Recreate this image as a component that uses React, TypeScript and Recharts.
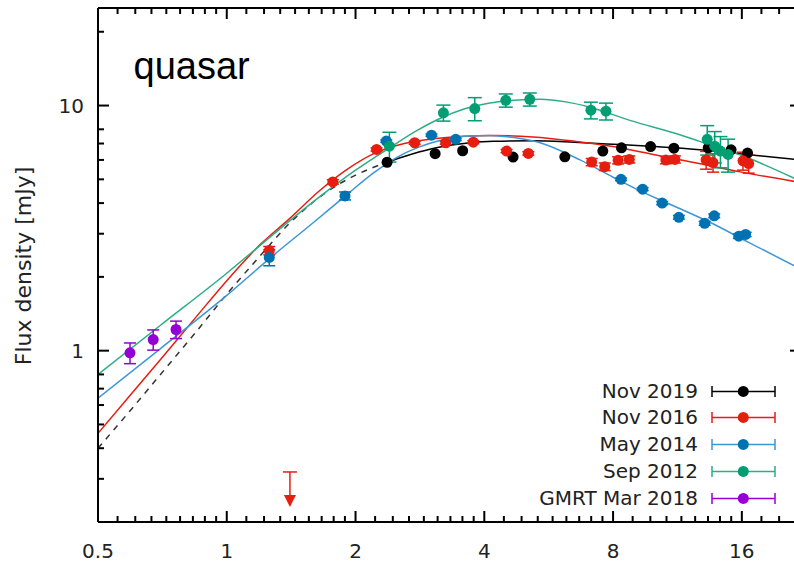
import React from 'react';
import { ComposedChart, Line, Scatter, XAxis, YAxis, ErrorBar, Legend, Customized, ReferenceDot, ReferenceLine } from 'recharts';

// ---- tick labels / ticks ----
const xMajorTicks = [0.5, 1, 2, 4, 8, 16];
const xMinorFractions = [1, 2, 3, 4, 5, 6, 7, 8]; // octave subdivisions (ninths)
const yMajorTicks = [1, 10];
const yMinorTicks = [0.3, 0.4, 0.5, 0.6, 0.7, 0.8, 2, 3, 4, 5, 6, 7, 8, 20];
const X_MIN = 0.5;
const X_MAX = 22;
const Y_MIN = 0.2;
const Y_MAX = 25;

// ---- fit curves ----
const fitNov2019Dashed = [
  { x: 0.5, y: 0.40 }, { x: 0.6, y: 0.58 }, { x: 0.7, y: 0.80 }, { x: 0.85, y: 1.2 },
  { x: 1.0, y: 1.7 }, { x: 1.2, y: 2.45 }, { x: 1.4, y: 3.3 }, { x: 1.7, y: 4.4 },
  { x: 2.0, y: 5.2 }, { x: 2.37, y: 5.87 },
];
const fitNov2019 = [
  { x: 2.37, y: 5.87 }, { x: 2.6, y: 6.2 }, { x: 3.0, y: 6.65 }, { x: 3.5, y: 6.97 },
  { x: 4.2, y: 7.15 }, { x: 5.2, y: 7.18 }, { x: 6.5, y: 7.08 }, { x: 8, y: 6.95 },
  { x: 10, y: 6.8 }, { x: 13, y: 6.58 }, { x: 16, y: 6.35 }, { x: 22, y: 6.0 },
];
const fitNov2016 = [
  { x: 0.5, y: 0.46 }, { x: 0.6, y: 0.67 }, { x: 0.7, y: 0.92 }, { x: 0.85, y: 1.38 },
  { x: 1.0, y: 1.93 }, { x: 1.2, y: 2.72 }, { x: 1.4, y: 3.45 }, { x: 1.65, y: 4.5 },
  { x: 1.9, y: 5.45 }, { x: 2.2, y: 6.35 }, { x: 2.6, y: 7.0 }, { x: 3.0, y: 7.3 },
  { x: 3.6, y: 7.5 }, { x: 4.2, y: 7.55 }, { x: 5.2, y: 7.45 }, { x: 6.5, y: 7.15 },
  { x: 8, y: 6.8 }, { x: 10, y: 6.3 }, { x: 12.7, y: 5.8 }, { x: 16, y: 5.35 }, { x: 22, y: 4.85 },
];
const fitMay2014 = [
  { x: 0.5, y: 0.64 }, { x: 0.7, y: 1.02 }, { x: 1.0, y: 1.68 }, { x: 1.26, y: 2.38 },
  { x: 1.6, y: 3.35 }, { x: 1.9, y: 4.3 }, { x: 2.2, y: 5.3 }, { x: 2.5, y: 6.15 },
  { x: 2.8, y: 6.75 }, { x: 3.15, y: 7.2 }, { x: 3.6, y: 7.5 }, { x: 4.1, y: 7.55 },
  { x: 4.7, y: 7.4 }, { x: 5.4, y: 7.05 }, { x: 6.7, y: 6.0 }, { x: 8.0, y: 5.1 },
  { x: 9.07, y: 4.56 }, { x: 11.0, y: 3.92 }, { x: 13.47, y: 3.34 }, { x: 16.5, y: 2.78 }, { x: 22, y: 2.15 },
];
const fitSep2012 = [
  { x: 0.5, y: 0.8 }, { x: 0.7, y: 1.27 }, { x: 1.0, y: 2.07 }, { x: 1.26, y: 2.9 },
  { x: 1.65, y: 4.25 }, { x: 2.0, y: 5.45 }, { x: 2.41, y: 6.75 }, { x: 2.8, y: 7.95 },
  { x: 3.15, y: 8.85 }, { x: 3.6, y: 9.7 }, { x: 4.12, y: 10.25 }, { x: 4.7, y: 10.5 },
  { x: 5.4, y: 10.6 }, { x: 6.2, y: 10.35 }, { x: 7.06, y: 9.85 }, { x: 8.76, y: 8.7 },
  { x: 11.46, y: 7.6 }, { x: 13.2, y: 7.0 }, { x: 16.4, y: 6.15 }, { x: 22, y: 4.9 },
];

// ---- measurements ----
const ptsNov2019 = [
  { x: 2.37, y: 5.87 }, { x: 3.07, y: 6.36 }, { x: 3.56, y: 6.54 }, { x: 4.67, y: 6.16 },
  { x: 6.17, y: 6.18 }, { x: 7.57, y: 6.52 }, { x: 8.37, y: 6.72 }, { x: 9.79, y: 6.8 },
  { x: 11.1, y: 6.7 }, { x: 13.35, y: 6.72 }, { x: 15.1, y: 6.6 }, { x: 16.5, y: 6.4 },
];
const ptsNov2016 = [
  { x: 1.257, y: 2.56, err: 0.1 }, { x: 1.77, y: 4.88, err: 0.1 }, { x: 2.24, y: 6.62, err: 0.1 },
  { x: 2.75, y: 7.05, err: 0.1 }, { x: 3.25, y: 7.05, err: 0.1 }, { x: 3.77, y: 7.09, err: 0.1 },
  { x: 4.51, y: 6.52, err: 0.1 }, { x: 5.07, y: 6.38, err: 0.1 }, { x: 7.13, y: 5.88, err: 0.2 },
  { x: 7.65, y: 5.63, err: 0.2 }, { x: 8.22, y: 5.98, err: 0.2 }, { x: 8.73, y: 6.03, err: 0.2 },
  { x: 10.63, y: 5.99, err: 0.2 }, { x: 11.16, y: 6.03, err: 0.2 }, { x: 13.2, y: 6.0, err: 0.5 },
  { x: 13.7, y: 5.85, err: 0.5 }, { x: 16.1, y: 5.95, err: 0.5 }, { x: 16.6, y: 5.8, err: 0.5 },
];
const limitNov2016 = [{ x: 1.405, y: 0.32 }];
const ptsMay2014 = [
  { x: 1.257, y: 2.4, err: 0.18 }, { x: 1.89, y: 4.28, err: 0.16 }, { x: 2.36, y: 7.16, err: 0.08 },
  { x: 3.01, y: 7.57, err: 0.08 }, { x: 3.43, y: 7.28, err: 0.08 }, { x: 8.35, y: 5.0, err: 0.06 },
  { x: 9.38, y: 4.56, err: 0.06 }, { x: 10.42, y: 4.0, err: 0.06 }, { x: 11.4, y: 3.5, err: 0.06 },
  { x: 13.1, y: 3.31, err: 0.06 }, { x: 13.79, y: 3.55, err: 0.06 }, { x: 15.74, y: 2.93, err: 0.06 },
  { x: 16.33, y: 2.98, err: 0.06 },
];
const ptsSep2012 = [
  { x: 2.4, y: 6.83, err: 0.95 }, { x: 3.21, y: 9.34, err: 0.7 }, { x: 3.8, y: 9.72, err: 1.05 },
  { x: 4.49, y: 10.5, err: 0.65 }, { x: 5.11, y: 10.6, err: 0.65 }, { x: 7.1, y: 9.57, err: 0.75 },
  { x: 7.7, y: 9.48, err: 0.75 }, { x: 13.28, y: 7.28, err: 1.0 }, { x: 13.83, y: 6.83, err: 1.0 },
  { x: 14.26, y: 6.52, err: 0.95 }, { x: 14.86, y: 6.32, err: 0.97 },
];
const ptsGmrt2018 = [
  { x: 0.594, y: 0.98, err: 0.095 }, { x: 0.673, y: 1.11, err: 0.105 }, { x: 0.761, y: 1.22, err: 0.1 },
];

const legendLabels = ['Nov 2019', 'Nov 2016', 'May 2014', 'Sep 2012', 'GMRT Mar 2018'];
const legendLineColors = ['#000000', '#e51e10', '#3d96d6', '#2bae85', '#9400d3'];
const legendDotColors = ['#000000', '#e51e10', '#0072b2', '#009e73', '#9400d3'];

const C_BLACK = '#000000';
const C_RED = '#e51e10';
const C_BLUE_LINE = '#3d96d6';
const C_BLUE_DOT = '#0072b2';
const C_GREEN_LINE = '#2bae85';
const C_GREEN_DOT = '#009e73';
const C_PURPLE = '#9400d3';

const FONT = '"DejaVu Sans", sans-serif';
const AX = '#000000';

const xMinorTicks: number[] = [];
[0.5, 1, 2, 4, 8, 16].forEach((b) => {
  xMinorFractions.forEach((k) => {
    const v = b * (1 + k / 9);
    if (v < X_MAX) xMinorTicks.push(v);
  });
});

// labels (bottom/left major tick lines are drawn by the axes themselves, pointing inward)
const renderBottomLabel = (props: any) => {
  const { x, y, payload } = props;
  return (
    <text x={x} y={y + 47} textAnchor="middle" fontFamily={FONT} fontSize={20} fill="#222">
      {payload.value}
    </text>
  );
};
const renderLeftLabel = (props: any) => {
  const { x, y, payload } = props;
  return (
    <text x={x - 25} y={y + 7} textAnchor="end" fontFamily={FONT} fontSize={20} fill="#222">
      {payload.value}
    </text>
  );
};

// other tick marks placed by ReferenceDot (position comes from the axis scales)
const tickUp = (len: number) => (p: any) => (
  <path d={`M${p.cx},${p.cy}L${p.cx},${p.cy - len}`} stroke={AX} strokeWidth={2} fill="none" />
);
const tickDown = (len: number) => (p: any) => (
  <path d={`M${p.cx},${p.cy}L${p.cx},${p.cy + len}`} stroke={AX} strokeWidth={2} fill="none" />
);
const tickRight = (len: number) => (p: any) => (
  <path d={`M${p.cx},${p.cy}L${p.cx + len},${p.cy}`} stroke={AX} strokeWidth={2} fill="none" />
);
const tickLeft = (len: number) => (p: any) => (
  <path d={`M${p.cx},${p.cy}L${p.cx - len},${p.cy}`} stroke={AX} strokeWidth={2} fill="none" />
);

const dotShape = (color: string) => (p: any) => <circle cx={p.cx} cy={p.cy} r={5.5} fill={color} />;

const LimitShape = (p: any) => {
  const { cx, cy } = p;
  return (
    <g>
      <line x1={cx - 7} x2={cx + 7} y1={cy} y2={cy} stroke={C_RED} strokeWidth={1.5} />
      <line x1={cx} x2={cx} y1={cy} y2={cy + 24} stroke={C_RED} strokeWidth={1.5} />
      <polygon points={`${cx - 6},${cy + 23} ${cx + 6},${cy + 23} ${cx},${cy + 35}`} fill={C_RED} />
    </g>
  );
};

const renderLegend = () => (
  <div style={{ fontFamily: FONT, fontSize: 20, color: '#222' }}>
    {legendLabels.map((lab, i) => (
      <div key={lab} style={{ display: 'flex', alignItems: 'center', height: 26.8 }}>
        <div style={{ width: 198, textAlign: 'right', whiteSpace: 'nowrap', lineHeight: '26.8px' }}>{lab}</div>
        <svg width={82} height={26.8} style={{ display: 'block' }}>
          <line x1={14} x2={77} y1={13.4} y2={13.4} stroke={legendLineColors[i]} strokeWidth={1.5} />
          <line x1={14} x2={14} y1={8} y2={19} stroke={legendLineColors[i]} strokeWidth={1.5} />
          <line x1={77} x2={77} y1={8} y2={19} stroke={legendLineColors[i]} strokeWidth={1.5} />
          <circle cx={45.3} cy={13.4} r={5.5} fill={legendDotColors[i]} />
        </svg>
      </div>
    ))}
  </div>
);

const Texts = () => (
  <g>
    <text x={133.5} y={79} fontFamily='"Liberation Sans", Arial, sans-serif' fontSize={38} fill="#000">quasar</text>
    <text transform="translate(31,266) rotate(-90)" textAnchor="middle" fontFamily={FONT} fontSize={22} fill="#222">
      Flux density [mJy]
    </text>
  </g>
);

export default function App() {
  return (
    <div style={{ position: 'absolute', left: 0, top: 0, width: 794, height: 563, overflow: 'hidden', background: '#fff' }}>
      <ComposedChart width={810} height={563} margin={{ top: 8, right: 9, bottom: 0, left: 0 }}>
        <XAxis
          dataKey="x"
          type="number"
          scale="log"
          domain={[X_MIN, X_MAX]}
          allowDataOverflow
          ticks={xMajorTicks}
          interval={0}
          tickSize={-11}
          tickMargin={0}
          tickLine={{ stroke: AX, strokeWidth: 2 }}
          axisLine={{ stroke: AX, strokeWidth: 2 }}
          tick={renderBottomLabel}
          height={41}
        />
        <YAxis
          type="number"
          scale="log"
          domain={[Y_MIN, Y_MAX]}
          allowDataOverflow
          ticks={yMajorTicks}
          interval={0}
          tickSize={-11}
          tickMargin={0}
          tickLine={{ stroke: AX, strokeWidth: 2 }}
          axisLine={{ stroke: AX, strokeWidth: 2 }}
          tick={renderLeftLabel}
          width={98}
        />

        <ReferenceLine y={Y_MAX} stroke={AX} strokeWidth={2} ifOverflow="visible" />
        <ReferenceLine x={X_MAX} stroke={AX} strokeWidth={2} ifOverflow="visible" />

        <Line data={fitNov2019Dashed} dataKey="y" type="monotone" stroke="#333" strokeWidth={1.5} strokeDasharray="6 6" dot={false} activeDot={false} isAnimationActive={false} legendType="none" />
        <Line data={fitNov2019} dataKey="y" type="monotone" stroke={C_BLACK} strokeWidth={1.5} dot={false} activeDot={false} isAnimationActive={false} legendType="none" />
        <Line data={fitNov2016} dataKey="y" type="monotone" stroke={C_RED} strokeWidth={1.5} dot={false} activeDot={false} isAnimationActive={false} legendType="none" />
        <Line data={fitMay2014} dataKey="y" type="monotone" stroke={C_BLUE_LINE} strokeWidth={1.5} dot={false} activeDot={false} isAnimationActive={false} legendType="none" />
        <Line data={fitSep2012} dataKey="y" type="monotone" stroke={C_GREEN_LINE} strokeWidth={1.5} dot={false} activeDot={false} isAnimationActive={false} legendType="none" />

        <Scatter data={ptsNov2019} dataKey="y" shape={dotShape(C_BLACK)} isAnimationActive={false} />
        <Scatter data={ptsNov2016} dataKey="y" shape={dotShape(C_RED)} isAnimationActive={false}>
          <ErrorBar dataKey="err" direction="y" width={6} stroke={C_RED} strokeWidth={1.5} isAnimationActive={false} />
        </Scatter>
        <Scatter data={limitNov2016} dataKey="y" shape={LimitShape} isAnimationActive={false} />
        <Scatter data={ptsMay2014} dataKey="y" shape={dotShape(C_BLUE_DOT)} isAnimationActive={false}>
          <ErrorBar dataKey="err" direction="y" width={6} stroke={C_BLUE_DOT} strokeWidth={1.5} isAnimationActive={false} />
        </Scatter>
        <Scatter data={ptsSep2012} dataKey="y" shape={dotShape(C_GREEN_DOT)} isAnimationActive={false}>
          <ErrorBar dataKey="err" direction="y" width={7} stroke={C_GREEN_DOT} strokeWidth={1.5} isAnimationActive={false} />
        </Scatter>
        <Scatter data={ptsGmrt2018} dataKey="y" shape={dotShape(C_PURPLE)} isAnimationActive={false}>
          <ErrorBar dataKey="err" direction="y" width={6} stroke={C_PURPLE} strokeWidth={1.5} isAnimationActive={false} />
        </Scatter>

        {xMinorTicks.map((v) => (
          <ReferenceDot key={`xb${v}`} x={v} y={Y_MIN} ifOverflow="visible" shape={tickUp(6)} />
        ))}
        {xMajorTicks.map((v) => (
          <ReferenceDot key={`xtM${v}`} x={v} y={Y_MAX} ifOverflow="visible" shape={tickDown(11)} />
        ))}
        {xMinorTicks.map((v) => (
          <ReferenceDot key={`xt${v}`} x={v} y={Y_MAX} ifOverflow="visible" shape={tickDown(6)} />
        ))}
        {yMinorTicks.map((v) => (
          <ReferenceDot key={`yl${v}`} x={X_MIN} y={v} ifOverflow="visible" shape={tickRight(6)} />
        ))}
        {yMajorTicks.map((v) => (
          <ReferenceDot key={`yrM${v}`} x={X_MAX} y={v} ifOverflow="visible" shape={tickLeft(11)} />
        ))}
        {yMinorTicks.map((v) => (
          <ReferenceDot key={`yr${v}`} x={X_MAX} y={v} ifOverflow="visible" shape={tickLeft(6)} />
        ))}

        <Customized component={Texts} />
        <Legend
          layout="vertical"
          align="center"
          verticalAlign="middle"
          content={renderLegend}
          wrapperStyle={{ position: 'absolute', left: 500, top: 377.6, width: 290, height: 140 }}
        />
      </ComposedChart>
    </div>
  );
}
